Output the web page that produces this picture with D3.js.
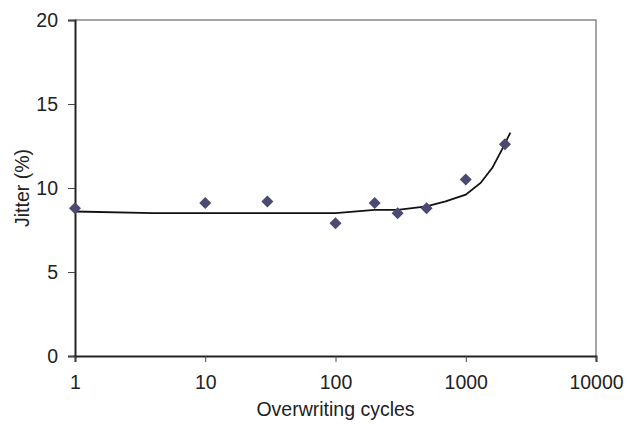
<!DOCTYPE html>
<html>
<head>
<meta charset="utf-8">
<script src="https://cdn.jsdelivr.net/npm/d3@7"></script>
<style>
  body { margin: 0; background: #fff; }
  svg { display: block; }
  text { font-family: "Liberation Sans", Arial, sans-serif; }
</style>
</head>
<body>
<svg id="chart" width="627" height="424"></svg>
<script>
// measured points
const cycles = [1, 10, 30, 100, 200, 300, 500, 1000, 2000];
const jitter = [8.8, 9.1, 9.2, 7.9, 9.1, 8.5, 8.8, 10.5, 12.6];

// trend curve
const fitCycles = [1, 4, 50, 100, 200, 300, 500, 700, 1000, 1300, 1600, 1900, 2200];
const fitJitter = [8.6, 8.5, 8.5, 8.5, 8.7, 8.7, 8.9, 9.2, 9.6, 10.3, 11.2, 12.3, 13.3];

const xTicks = [1, 10, 100, 1000, 10000];
const yTicks = [0, 5, 10, 15, 20];

const margin = { top: 20, right: 31, bottom: 68, left: 75 };
const width = 627, height = 424;
const fontSize = 19.5;

const svg = d3.select("#chart");
const x = d3.scaleLog().domain([1, 10000]).range([margin.left, width - margin.right]);
const y = d3.scaleLinear().domain([0, 20]).range([height - margin.bottom, margin.top]);

// frame: top and right in gray
svg.append("path")
  .attr("d", `M${x(1)},${y(20)}H${x(10000)}V${y(0)}`)
  .attr("fill", "none")
  .attr("stroke", "#888")
  .attr("stroke-width", 1.5);

// y axis
const yAxis = svg.append("g")
  .attr("transform", `translate(${x(1)},0)`)
  .call(d3.axisLeft(y).tickValues(yTicks).tickSize(7).tickPadding(10))
  .attr("font-family", null);
yAxis.select(".domain").attr("stroke", "#222").attr("stroke-width", 2);
yAxis.selectAll(".tick line").attr("stroke", "#444");
yAxis.selectAll(".tick text").attr("font-size", fontSize).attr("fill", "#222");

// x axis
const xAxis = svg.append("g")
  .attr("transform", `translate(0,${y(0)})`)
  .call(d3.axisBottom(x).tickValues(xTicks).tickFormat(d3.format("d")).tickSize(6).tickPadding(13))
  .attr("font-family", null);
xAxis.select(".domain").attr("stroke", "#222").attr("stroke-width", 2);
xAxis.selectAll(".tick line").attr("stroke", "#444");
xAxis.selectAll(".tick text").attr("font-size", fontSize).attr("fill", "#222");

// trend line
const line = d3.line()
  .x((d, i) => x(fitCycles[i]))
  .y(d => y(d));
svg.append("path")
  .datum(fitJitter)
  .attr("d", line)
  .attr("fill", "none")
  .attr("stroke", "#111")
  .attr("stroke-width", 1.8);

// diamonds
svg.append("g")
  .selectAll("path")
  .data(jitter)
  .join("path")
  .attr("d", d3.symbol(d3.symbolSquare, 72))
  .attr("transform", (d, i) => `translate(${x(cycles[i])},${y(d)}) rotate(45)`)
  .attr("fill", "#4b4a73");

// axis titles
svg.append("text")
  .attr("x", (x(1) + x(10000)) / 2)
  .attr("y", 416)
  .attr("text-anchor", "middle")
  .attr("font-size", fontSize)
  .attr("fill", "#222")
  .text("Overwriting cycles");

svg.append("text")
  .attr("transform", `translate(29,${(y(0) + y(20)) / 2}) rotate(-90)`)
  .attr("text-anchor", "middle")
  .attr("font-size", fontSize)
  .attr("fill", "#222")
  .text("Jitter (%)");
</script>
</body>
</html>
